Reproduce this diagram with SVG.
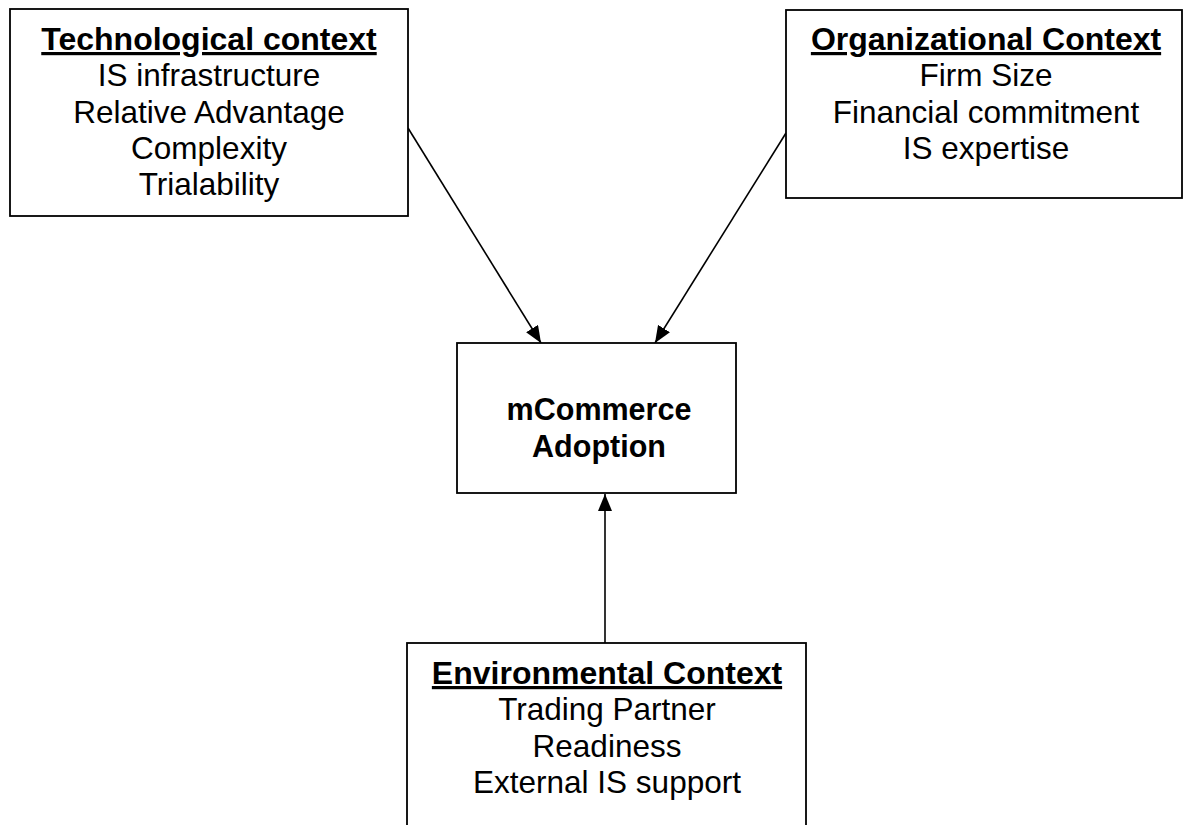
<svg xmlns="http://www.w3.org/2000/svg" width="1184" height="825" viewBox="0 0 1184 825">
<style>
.box{fill:#fff;stroke:#000;stroke-width:1.8}
.t{font-family:"Liberation Sans",Arial,sans-serif;font-size:31.5px;fill:#000;text-anchor:middle}
.h{font-weight:bold;font-size:32px;text-decoration:underline}
.b{font-weight:bold;font-size:30.5px}
.c{stroke:#000;stroke-width:1.6;fill:none}
</style>
<defs>
<marker id="arr" markerUnits="userSpaceOnUse" markerWidth="18" markerHeight="15" refX="17" refY="7" orient="auto">
<path d="M0,0 L17,7 L0,14 z" fill="#000"/>
</marker>
</defs>
<rect width="1184" height="825" fill="#fff"/>
<g id="connectors">
<line class="c" x1="408" y1="128" x2="541" y2="343" marker-end="url(#arr)"/>
<line class="c" x1="786" y1="133" x2="655" y2="343" marker-end="url(#arr)"/>
<line class="c" x1="605" y1="643" x2="605" y2="494" marker-end="url(#arr)"/>
</g>
<g id="technological">
<rect class="box" x="10" y="9" width="398" height="207"/>
<text class="t h" x="209" y="50">Technological context</text>
<text class="t" x="209" y="86">IS infrastructure</text>
<text class="t" x="209" y="123">Relative Advantage</text>
<text class="t" x="209" y="159">Complexity</text>
<text class="t" x="209" y="195">Trialability</text>
</g>
<g id="organizational">
<rect class="box" x="786" y="10" width="396" height="188"/>
<text class="t h" x="986" y="50">Organizational Context</text>
<text class="t" x="986" y="86">Firm Size</text>
<text class="t" x="986" y="123">Financial commitment</text>
<text class="t" x="986" y="159">IS expertise</text>
</g>
<g id="adoption">
<rect class="box" x="457" y="343" width="279" height="150"/>
<text class="t b" x="599" y="420">mCommerce</text>
<text class="t b" x="599" y="457">Adoption</text>
</g>
<g id="environmental">
<rect class="box" x="407" y="643" width="399" height="200"/>
<text class="t h" x="607" y="684">Environmental Context</text>
<text class="t" x="607" y="720">Trading Partner</text>
<text class="t" x="607" y="757">Readiness</text>
<text class="t" x="607" y="793">External IS support</text>
</g>
</svg>
